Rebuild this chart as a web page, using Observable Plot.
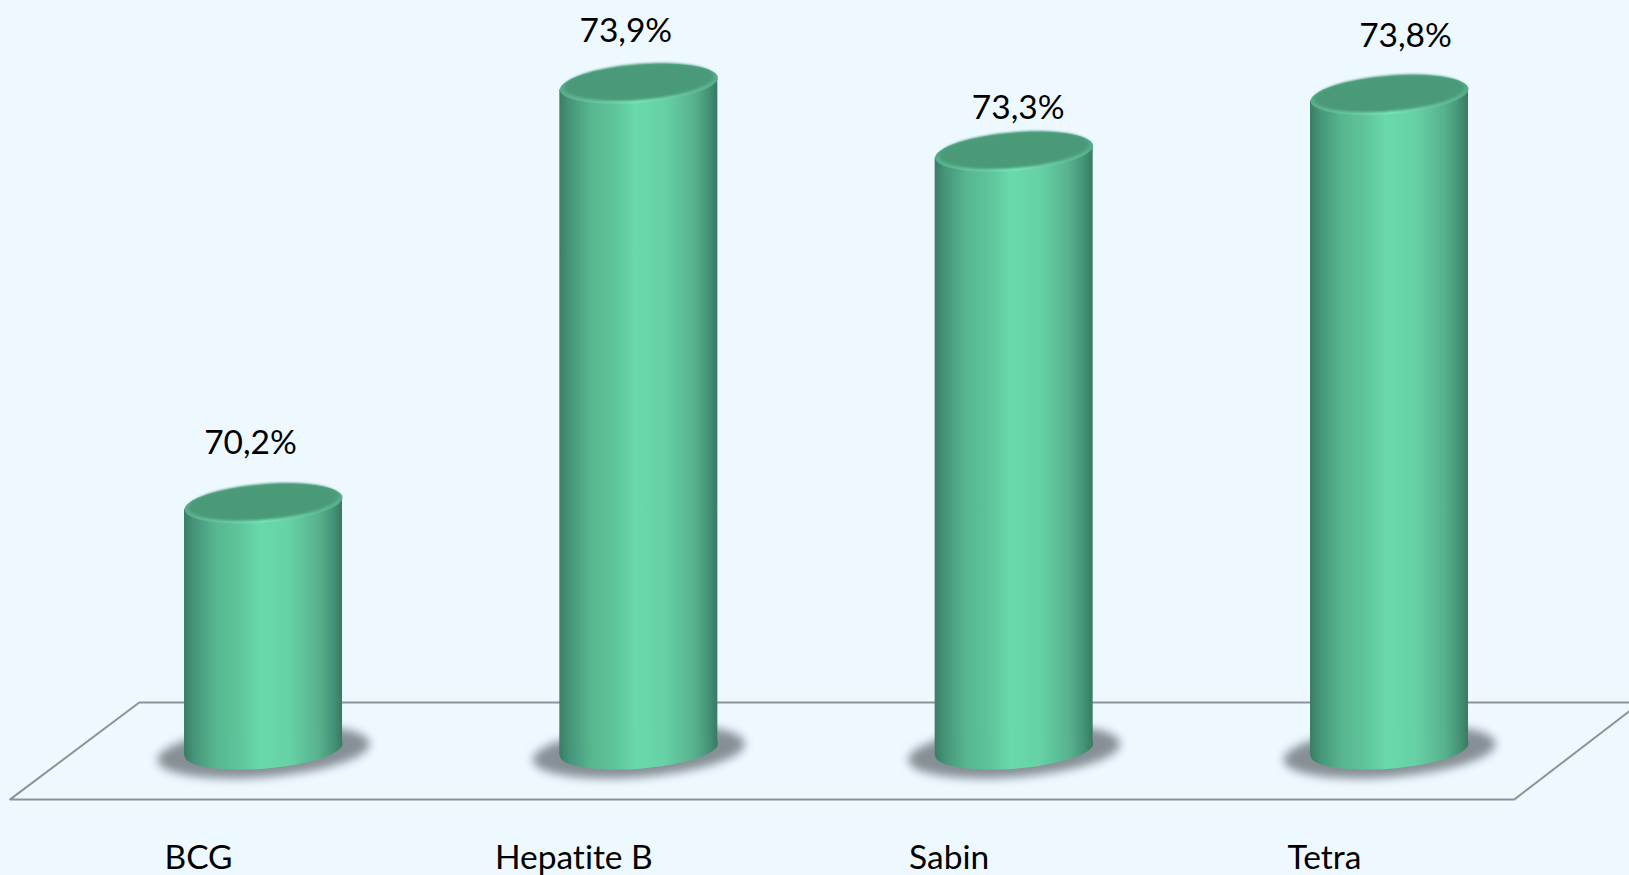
<!DOCTYPE html>
<html><head><meta charset="utf-8">
<script src="https://cdn.jsdelivr.net/npm/d3@7"></script>
<script src="https://cdn.jsdelivr.net/npm/@observablehq/plot@0.6"></script>
<style>html,body{margin:0;padding:0;background:#eef9ff;overflow:hidden}svg{display:block}text{font-variant-ligatures:none}</style>
</head><body><div id="chart"></div>
<script>
const categories = ["BCG", "Hepatite B", "Sabin", "Tetra"];
const values = [70.2, 73.9, 73.3, 73.8];
const valueLabels = ["70,2%", "73,9%", "73,3%", "73,8%"];
const baseline = 68.03;
const floorX = [3.669, -0.331, -0.675, 3.333, 3.669];
const floorY = [68.446, 68.446, 67.592, 67.592, 68.446];

const rows = categories.map((c, i) => ({i, c, value: values[i], label: valueLabels[i]}));
const floor = floorX.map((x, i) => ({x, y: floorY[i]}));
const halfWidth = 0.2105, lean = 0.053;
// The cylinder's sides follow the tilt of its end caps: left side lower, right side higher.
const sides = rows.flatMap(d => [
  {c: d.c, x: d.i - halfWidth, y1: baseline - lean, y2: d.value - lean},
  {c: d.c, x: d.i + halfWidth, y1: baseline + lean, y2: d.value + lean}
]);
const labelNudge = [[-13, -60.5], [-13, -52], [4, -43], [16, -59]];

// Tilted ellipse: an affine image of the unit circle, as the top of a leaning cylinder.
const tilted = {draw(ctx, size) {
  const r = Math.sqrt(size / Math.PI), a = -6 / 79 * r, b = 19 / 79 * r, k = 0.5523;
  const P = (c, s) => [r * c, a * c + b * s];
  ctx.moveTo(...P(1, 0));
  ctx.bezierCurveTo(...P(1, k), ...P(k, 1), ...P(0, 1));
  ctx.bezierCurveTo(...P(-k, 1), ...P(-1, k), ...P(-1, 0));
  ctx.bezierCurveTo(...P(-1, -k), ...P(-k, -1), ...P(0, -1));
  ctx.bezierCurveTo(...P(k, -1), ...P(1, -k), ...P(1, 0));
  ctx.closePath();
}};

const defs = () => {
  const g = document.createElementNS("http://www.w3.org/2000/svg", "g");
  g.innerHTML = `<defs>
  <linearGradient id="body" x1="0" x2="1" y1="0" y2="0">
    <stop offset="0" stop-color="#3a7d62"/>
    <stop offset="0.06" stop-color="#459479"/>
    <stop offset="0.2" stop-color="#57b68f"/>
    <stop offset="0.35" stop-color="#5fc49b"/>
    <stop offset="0.48" stop-color="#69d9aa"/>
    <stop offset="0.66" stop-color="#66d2a6"/>
    <stop offset="0.85" stop-color="#57b28d"/>
    <stop offset="0.94" stop-color="#469478"/>
    <stop offset="1" stop-color="#387a60"/>
  </linearGradient>
  <linearGradient id="rim" x1="0" x2="1" y1="0" y2="0">
    <stop offset="0" stop-color="#56ab89"/>
    <stop offset="0.5" stop-color="#7ce6ba"/>
    <stop offset="1" stop-color="#56ab89"/>
  </linearGradient>
  </defs>`;
  return g;
};

const chart = Plot.plot({
  width: 1629, height: 875,
  marginTop: 0, marginRight: 0, marginLeft: 0, marginBottom: 30,
  style: {background: "#eef9ff", fontFamily: "Lato, sans-serif"},
  x: {type: "linear", domain: [0, 3], range: [263, 1389], axis: null},
  y: {type: "linear", domain: [68, 74], range: [752.6, 71.8], axis: null},
  marks: [
    defs,
    Plot.line(floor, {x: "x", y: "y", stroke: "#8e9496", strokeWidth: 2}),
    Plot.dot(rows, {x: "i", y: () => baseline, r: 106, dy: 2, symbol: tilted, fill: "#858f95", imageFilter: "blur(5px)"}),
    Plot.areaY(sides, {x: "x", y1: "y1", y2: "y2", z: "c", fill: "url(#body)"}),
    Plot.dot(rows, {x: "i", y: () => baseline, r: 79, symbol: tilted, fill: "url(#body)"}),
    Plot.dot(rows, {x: "i", y: "value", r: 79, symbol: tilted, fill: "url(#rim)"}),
    Plot.dot(rows, {x: "i", y: "value", r: 75, dy: -1.8, symbol: tilted, fill: "#4a9a79", imageFilter: "blur(1px)"}),
    ...rows.map((d, i) => Plot.text([d], {
      x: "i", y: "value", text: "label",
      dx: labelNudge[i][0], dy: labelNudge[i][1],
      fontSize: 33.5, fill: "#000"
    })),
    Plot.axisX(rows.map(d => d.i), {
      anchor: "bottom", tickSize: 0, tickPadding: 0, dx: -65,
      tickFormat: i => categories[i], fontSize: 33.5, fill: "#000", label: null
    })
  ]
});
document.getElementById("chart").append(chart);
</script></body></html>
